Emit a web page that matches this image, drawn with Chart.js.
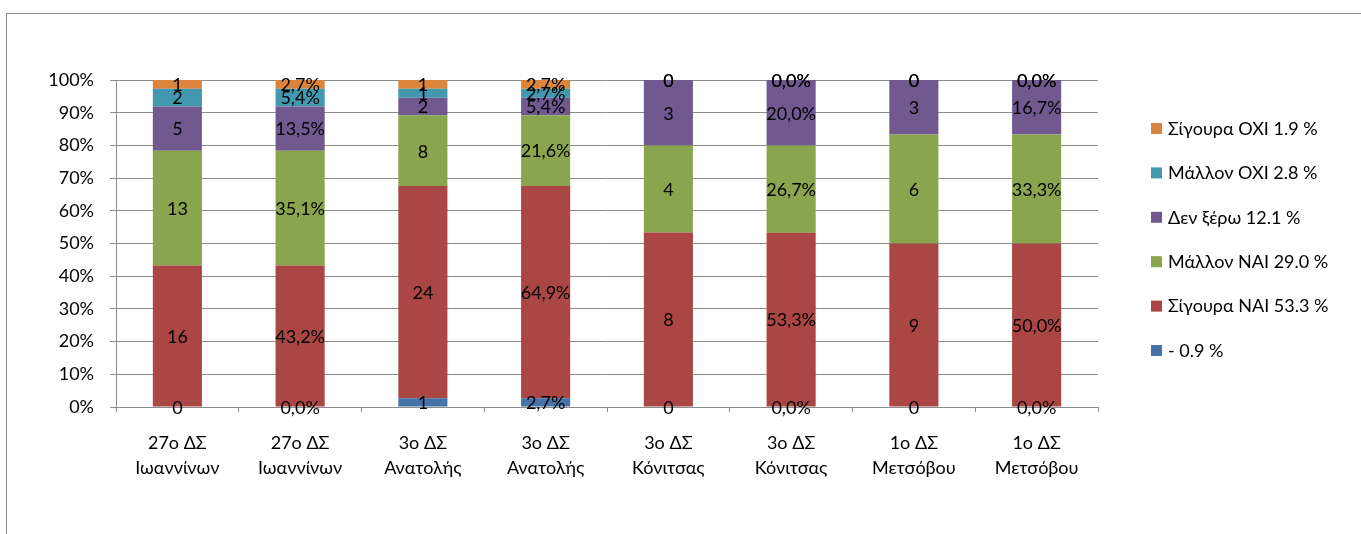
<!DOCTYPE html>
<html>
<head>
<meta charset="utf-8">
<script src="https://cdn.jsdelivr.net/npm/chart.js@4"></script>
<style>
  html, body { margin: 0; padding: 0; background: #fff; overflow: hidden; }
  #wrap { position: relative; width: 1361px; height: 534px; }
  #frame { position: absolute; left: 6px; top: 13px; width: 1500px; height: 600px;
           border-left: 1px solid #8c8c8c; border-top: 1px solid #8c8c8c; }
  #c { position: absolute; left: 0; top: 0; }
</style>
</head>
<body>
<div id="wrap">
  <div id="frame"></div>
  <canvas id="c" width="1361" height="534"></canvas>
</div>
<script>
// Schools: each appears twice, first with answer counts, then with percentages
const categories = [
  ['27ο ΔΣ', 'Ιωαννίνων'], ['27ο ΔΣ', 'Ιωαννίνων'],
  ['3ο ΔΣ', 'Ανατολής'],   ['3ο ΔΣ', 'Ανατολής'],
  ['3ο ΔΣ', 'Κόνιτσας'],   ['3ο ΔΣ', 'Κόνιτσας'],
  ['1ο ΔΣ', 'Μετσόβου'],   ['1ο ΔΣ', 'Μετσόβου']
];
const isPercentBar = [false, true, false, true, false, true, false, true];

// Answer series, bottom to top of each stack
const seriesNames = ['-', 'Σίγουρα ΝΑΙ', 'Μάλλον ΝΑΙ', 'Δεν ξέρω', 'Μάλλον ΟΧΙ', 'Σίγουρα ΟΧΙ'];
const legendLabels = ['- 0.9 %', 'Σίγουρα ΝΑΙ 53.3 %', 'Μάλλον ΝΑΙ 29.0 %', 'Δεν ξέρω 12.1 %', 'Μάλλον ΟΧΙ 2.8 %', 'Σίγουρα ΟΧΙ 1.9 %'];
const noAnswer     = [0, 0.0, 1, 2.7, 0, 0.0, 0, 0.0];
const surelyYes    = [16, 43.2, 24, 64.9, 8, 53.3, 9, 50.0];
const ratherYes    = [13, 35.1, 8, 21.6, 4, 26.7, 6, 33.3];
const dontKnow     = [5, 13.5, 2, 5.4, 3, 20.0, 3, 16.7];
const ratherNo     = [2, 5.4, 1, 2.7, 0, 0.0, 0, 0.0];
const surelyNo     = [1, 2.7, 1, 2.7, 0, 0.0, 0, 0.0];
const yTickValues  = [0, 10, 20, 30, 40, 50, 60, 70, 80, 90, 100];

const seriesValues = [noAnswer, surelyYes, ratherYes, dontKnow, ratherNo, surelyNo];
const seriesColors = ['#4572A7', '#AA4643', '#89A54E', '#71588F', '#4198AF', '#DB843D'];

const FONT = '"Lato", "Noto Sans", sans-serif';

// Each bar is scaled so its stack fills 100%
const totals = categories.map((_, i) => seriesValues.reduce((s, arr) => s + arr[i], 0));
const datasets = seriesNames.map((name, k) => ({
  label: legendLabels[k],
  raw: seriesValues[k],
  data: seriesValues[k].map((v, i) => v / totals[i] * 100),
  backgroundColor: seriesColors[k],
  borderWidth: 0,
  barPercentage: 0.4,
  categoryPercentage: 1.0
}));

function formatValue(v, pct) {
  return pct ? v.toFixed(1).replace('.', ',') + '%' : String(v);
}

// Value labels centred in every segment
const segmentLabels = {
  id: 'segmentLabels',
  afterDatasetsDraw(chart) {
    const ctx = chart.ctx;
    ctx.save();
    ctx.font = '18px ' + FONT;
    ctx.fillStyle = '#000';
    ctx.textAlign = 'center';
    ctx.textBaseline = 'middle';
    chart.data.datasets.forEach((ds, k) => {
      const meta = chart.getDatasetMeta(k);
      meta.data.forEach((el, i) => {
        const cy = (el.y + el.base) / 2;
        ctx.fillText(formatValue(ds.raw[i], isPercentBar[i]), el.x, cy + 1);
      });
    });
    ctx.restore();
  }
};

// Legend list on the right, top item is the last series
const sideLegend = {
  id: 'sideLegend',
  afterDraw(chart) {
    const ctx = chart.ctx;
    ctx.save();
    ctx.font = '18px ' + FONT;
    ctx.textBaseline = 'middle';
    ctx.textAlign = 'left';
    const n = chart.data.datasets.length;
    const x0 = 1151, y0 = 128, step = 44.4;
    for (let j = 0; j < n; j++) {
      const k = n - 1 - j;
      const ds = chart.data.datasets[k];
      const cy = y0 + j * step;
      ctx.fillStyle = ds.backgroundColor;
      ctx.fillRect(x0, cy - 5, 11, 11);
      ctx.fillStyle = '#000';
      ctx.fillText(ds.label, x0 + 17, cy + 1);
    }
    ctx.restore();
  }
};

new Chart(document.getElementById('c'), {
  type: 'bar',
  data: { labels: categories, datasets },
  options: {
    responsive: false,
    animation: false,
    devicePixelRatio: 1,
    layout: { padding: { left: 0, top: 80, right: 263, bottom: 0 } },
    plugins: { legend: { display: false }, tooltip: { enabled: false } },
    scales: {
      x: {
        stacked: true,
        afterFit(scale) { scale.height = 127; },
        grid: { display: true, drawOnChartArea: false, drawTicks: true, tickLength: 5, color: '#8c8c8c', offset: true },
        border: { display: true, color: '#8c8c8c', width: 1 },
        ticks: { color: '#000', font: { family: FONT, size: 18, lineHeight: 1.38 }, padding: 19, maxRotation: 0, autoSkip: false }
      },
      y: {
        stacked: true,
        min: 0, max: 100,
        afterFit(scale) { scale.width = 116; },
        afterBuildTicks(scale) { scale.ticks = yTickValues.map(v => ({ value: v })); },
        grid: { color: '#8c8c8c', tickLength: 6, drawTicks: true },
        border: { display: true, color: '#8c8c8c', width: 1 },
        ticks: { color: '#000', font: { family: FONT, size: 18 }, padding: 16, callback: v => v + '%' }
      }
    }
  },
  plugins: [segmentLabels, sideLegend]
});
</script>
</body>
</html>
